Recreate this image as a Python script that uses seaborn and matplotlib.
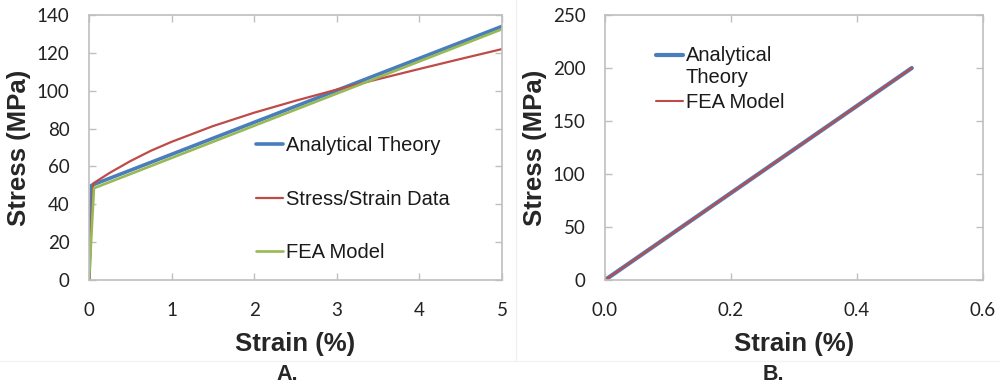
import matplotlib
matplotlib.use("Agg")
import matplotlib.pyplot as plt
import seaborn as sns
import pandas as pd

# ---- data ----
# Panel A: strain (%) vs stress (MPa)
theory_a_strain = [0.0, 0.03, 5.0]
theory_a_stress = [0.0, 50.0, 134.0]

data_a_strain = [0.0, 0.05, 0.25, 0.5, 0.75, 1.0, 1.5, 2.0, 2.5, 3.0, 3.5, 4.0, 4.5, 5.0]
data_a_stress = [0.0, 51.0, 56.6, 62.8, 68.3, 73.0, 81.3, 88.4, 94.7, 100.6, 106.1, 111.5, 116.8, 122.0]

fea_a_strain = [0.0, 0.06, 5.0]
fea_a_stress = [0.0, 48.5, 132.5]

# Panel B: elastic region
theory_b_strain = [0.0, 0.487]
theory_b_stress = [0.0, 200.0]
fea_b_strain = [0.0, 0.487]
fea_b_stress = [0.0, 200.0]

x_ticks_a = [0, 1, 2, 3, 4, 5]
y_ticks_a = [0, 20, 40, 60, 80, 100, 120, 140]
x_ticks_b = [0.0, 0.2, 0.4, 0.6]
y_ticks_b = [0, 50, 100, 150, 200, 250]

BLUE = "#4a7ebb"
RED = "#be4b48"
GREEN = "#98b954"
SPINE = "#bfbfbf"

sns.set_theme(style="white")
plt.rcParams["font.family"] = ["Liberation Sans", "DejaVu Sans"]

fig = plt.figure(figsize=(10, 3.89), dpi=100)
ax_a = fig.add_axes([0.089, 1 - 280 / 389, 0.413, 265 / 389])
ax_b = fig.add_axes([0.605, 1 - 280 / 389, 0.378, 265 / 389])


def frame(x, y, name):
    return pd.DataFrame({"strain": x, "stress": y, "series": name})


sns.lineplot(data=frame(theory_a_strain, theory_a_stress, "Analytical Theory"),
             x="strain", y="stress", color=BLUE, lw=2.6, ax=ax_a,
             label="Analytical Theory")
sns.lineplot(data=frame(data_a_strain, data_a_stress, "Stress/Strain Data"),
             x="strain", y="stress", color=RED, lw=1.6, ax=ax_a,
             label="Stress/Strain Data")
sns.lineplot(data=frame(fea_a_strain, fea_a_stress, "FEA Model"),
             x="strain", y="stress", color=GREEN, lw=1.9, ax=ax_a,
             label="FEA Model")

sns.lineplot(data=frame(theory_b_strain, theory_b_stress, "Analytical Theory"),
             x="strain", y="stress", color=BLUE, lw=3.0, ax=ax_b,
             label="Analytical\nTheory")
sns.lineplot(data=frame(fea_b_strain, fea_b_stress, "FEA Model"),
             x="strain", y="stress", color=RED, lw=1.5, ax=ax_b,
             label="FEA Model")


def style_axes(ax, xt, yt, xfmt):
    ax.set_xlim(xt[0], xt[-1])
    ax.set_ylim(yt[0], yt[-1])
    ax.set_xticks(xt)
    ax.set_yticks(yt)
    ax.set_xticklabels([xfmt.format(v) for v in xt], family="Lato", fontsize=13.5, color="#222222")
    ax.set_yticklabels([str(v) for v in yt], family="Lato", fontsize=13.5, color="#222222")
    ax.tick_params(axis="both", which="major", direction="in", length=5, width=1,
                   color=SPINE, top=True, right=True, bottom=True, left=True)
    ax.tick_params(axis="y", pad=14)
    ax.tick_params(axis="x", pad=16)
    for s in ax.spines.values():
        s.set_visible(True)
        s.set_color(SPINE)
        s.set_linewidth(1.2)
    ax.set_xlabel("Strain (%)", fontsize=18.5, fontweight="bold", labelpad=9)
    ax.set_ylabel("Stress (MPa)", fontsize=18.5, fontweight="bold", labelpad=4)
    ax.grid(False)


style_axes(ax_a, x_ticks_a, y_ticks_a, "{:d}")
style_axes(ax_b, x_ticks_b, y_ticks_b, "{:.1f}")

leg_a = ax_a.legend(loc="upper left", bbox_to_anchor=(256 / 1000, 1 - 136 / 389),
                    bbox_transform=fig.transFigure, frameon=False, fontsize=14.5,
                    handlelength=1.35, handletextpad=0.12, labelspacing=1.72,
                    borderpad=0, borderaxespad=0)
leg_b = ax_b.legend(loc="upper left", bbox_to_anchor=(656 / 1000, 1 - 46 / 389),
                    bbox_transform=fig.transFigure, frameon=False, fontsize=14.5,
                    handlelength=1.35, handletextpad=0.12, labelspacing=0.3,
                    borderpad=0, borderaxespad=0)
for leg in (leg_a, leg_b):
    for t in leg.get_texts():
        t.set_color("#1a1a1a")

# raise the first handle of panel B to the first line of its two-line label
h0 = leg_b.legend_handles[0]
h0.set_ydata([y + 8.5 for y in h0.get_ydata()])

fig.text(0.2875, 1 - 375 / 389, "A.", ha="center", va="center",
         fontsize=15.5, fontweight="bold")
fig.text(0.773, 1 - 375 / 389, "B.", ha="center", va="center",
         fontsize=15.5, fontweight="bold")

# faint panel separators
fig.add_artist(plt.Line2D([0.516, 0.516], [1 - 360 / 389, 1.0],
                          transform=fig.transFigure, color="#f0f0f0", lw=1))
fig.add_artist(plt.Line2D([0.0, 1.0], [1 - 361 / 389, 1 - 361 / 389],
                          transform=fig.transFigure, color="#f3f3f3", lw=1))

fig.savefig("out.png", dpi=100, facecolor="white")
